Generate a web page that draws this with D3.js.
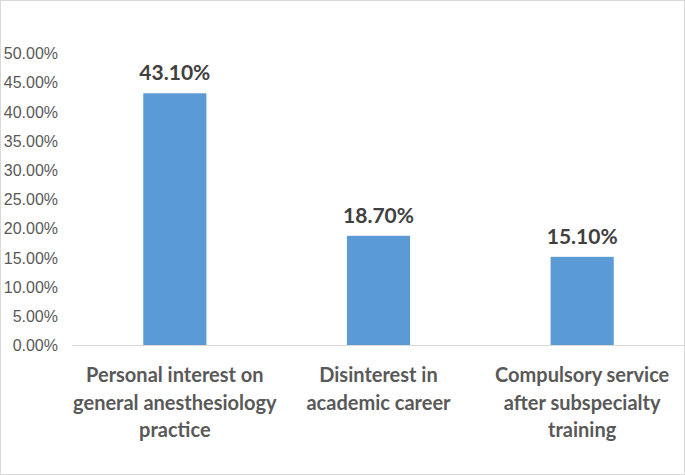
<!DOCTYPE html>
<html>
<head>
<meta charset="utf-8">
<script src="https://cdn.jsdelivr.net/npm/d3@7"></script>
<style>
  body { margin: 0; background: #fff; }
  svg { display: block; font-family: Lato, "Liberation Sans", sans-serif; }
</style>
</head>
<body>
<script>
// Data
const categories = [
  "Personal interest on general anesthesiology practice",
  "Disinterest in academic career",
  "Compulsory service after subspecialty training"
];
const labelLines = [
  ["Personal interest on", "general anesthesiology", "practice"],
  ["Disinterest in", "academic career"],
  ["Compulsory service", "after subspecialty", "training"]
];
const values = [43.1, 18.7, 15.1];
const yTicks = [0, 5, 10, 15, 20, 25, 30, 35, 40, 45, 50];

const width = 685, height = 475;
const margin = {top: 53, right: 1, bottom: 130, left: 73};

const svg = d3.select("body").append("svg")
    .attr("width", width)
    .attr("height", height);

// light chart-area border
svg.append("rect")
    .attr("x", 0.5).attr("y", 0.5)
    .attr("width", width - 1).attr("height", height - 1)
    .attr("fill", "none")
    .attr("stroke", "#d9d9d9");

let x = d3.scaleBand()
    .domain(categories)
    .range([margin.left, width - margin.right])
    .paddingInner(0.69)
    .paddingOuter(0.345);

let y = d3.scaleLinear()
    .domain([0, 50])
    .range([height - margin.bottom, margin.top]);

// Y axis labels (no axis line, no ticks)
let yAxis = svg.append("g")
    .attr("transform", "translate(58,0)")
    .call(d3.axisLeft(y).tickValues(yTicks).tickSize(0).tickPadding(0).tickFormat(d => d.toFixed(2) + "%"));
yAxis.select(".domain").remove();
yAxis.selectAll("text")
    .attr("fill", "#595959")
    .style("font-size", "16px")
    .attr("dy", "0.35em");

// Bars
svg.selectAll("rect.bar")
    .data(values)
  .enter().append("rect")
    .attr("class", "bar")
    .attr("x", (d, i) => x(categories[i]))
    .attr("y", d => y(d))
    .attr("width", x.bandwidth())
    .attr("height", d => y(0) - y(d))
    .attr("fill", "#5b9bd5");

// X axis line
svg.append("line")
    .attr("x1", margin.left - 1).attr("x2", width)
    .attr("y1", y(0) + 0.5).attr("y2", y(0) + 0.5)
    .attr("stroke", "#d9d9d9");

// Value labels
svg.selectAll("text.value")
    .data(values)
  .enter().append("text")
    .attr("class", "value")
    .attr("x", (d, i) => x(categories[i]) + x.bandwidth() / 2)
    .attr("y", d => y(d) - 13)
    .attr("text-anchor", "middle")
    .attr("fill", "#404040")
    .style("font-size", "21px")
    .style("font-weight", "bold")
    .text(d => d.toFixed(2) + "%");

// Category labels
let cat = svg.selectAll("text.cat")
    .data(labelLines)
  .enter().append("text")
    .attr("class", "cat")
    .attr("text-anchor", "middle")
    .attr("fill", "#595959")
    .style("font-size", "20px")
    .style("font-weight", "bold");
cat.each(function(lines, i) {
  let t = d3.select(this);
  lines.forEach(function(line, j) {
    t.append("tspan")
        .attr("x", x(categories[i]) + x.bandwidth() / 2)
        .attr("y", y(0) + 37 + j * 27.5)
        .text(line);
  });
});
</script>
</body>
</html>
